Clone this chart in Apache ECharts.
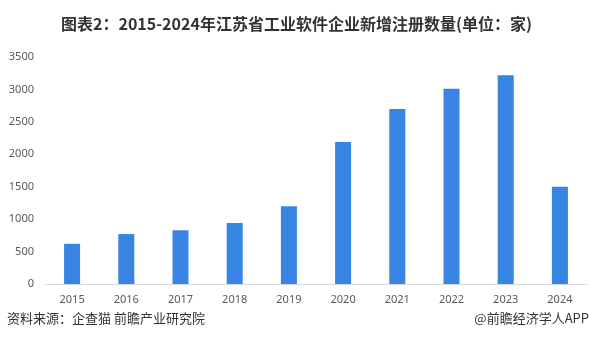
<!DOCTYPE html>
<html><head><meta charset="utf-8">
<script src="https://cdn.jsdelivr.net/npm/echarts@6/dist/echarts.min.js"></script>
<style>html,body{margin:0;padding:0;background:#fff}#c{width:589px;height:357px}</style>
</head><body><div id="c"></div>
<script>
const categories = ['2015','2016','2017','2018','2019','2020','2021','2022','2023','2024'];
const values = [620, 770, 830, 940, 1200, 2190, 2700, 3010, 3220, 1500];
const yTicks = [0, 500, 1000, 1500, 2000, 2500, 3000, 3500];
const titleText = '图表2：2015-2024年江苏省工业软件企业新增注册数量(单位：家)';
const sourceText = '资料来源：企查猫 前瞻产业研究院';
const brandText = '@前瞻经济学人APP';

const chart = echarts.init(document.getElementById('c'), null, {renderer:'canvas'});
chart.setOption({
  animation: false,
  backgroundColor: '#fff',
  title: {
    text: titleText, left: 56, top: 11,
    textStyle: {fontSize: 16, fontWeight: 'bold', color: '#333', fontFamily: 'Noto Sans CJK SC'}
  },
  grid: {left: 45, right: 2, top: 57, bottom: 73},
  xAxis: {
    type: 'category', data: categories,
    axisLine: {lineStyle: {color: '#d9d9d9'}},
    axisTick: {show: false},
    axisLabel: {color: '#595959', fontSize: 11, margin: 10, fontFamily: 'Noto Sans'}
  },
  yAxis: {
    type: 'value', min: yTicks[0], max: yTicks[yTicks.length-1], interval: 500,
    splitLine: {show: false},
    axisLine: {show: false}, axisTick: {show: false},
    axisLabel: {color: '#595959', fontSize: 11, margin: 11, fontFamily: 'Noto Sans',
      formatter: v => String(v)}
  },
  series: [{
    type: 'bar', data: values, barWidth: 16,
    itemStyle: {color: '#3784E2'}
  }],
  graphic: [
    {type:'text', left: 7, top: 312, style:{text: sourceText, fontSize: 13, fill:'#333', fontFamily:'Noto Sans CJK SC'}},
    {type:'text', right: 0, top: 312, style:{text: brandText, fontSize: 13, fill:'#333', fontFamily:'Noto Sans CJK SC'}}
  ]
});
</script></body></html>
